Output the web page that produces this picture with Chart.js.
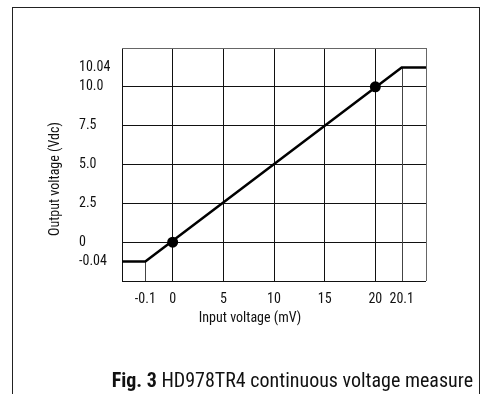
<!DOCTYPE html>
<html>
<head>
<meta charset="utf-8">
<title>HD978TR4 continuous voltage measure</title>
<script src="https://cdn.jsdelivr.net/npm/chart.js@4.4.1/dist/chart.umd.min.js"></script>
<style>
  html, body { margin: 0; padding: 0; background: #fff; }
  #wrap { width: 488px; height: 394px; }
</style>
</head>
<body>
<div id="wrap"><canvas id="chart" width="488" height="394"></canvas></div>
<script>
// transfer curve: input (mV) -> output (Vdc), clamped at both ends
const inputMv = [-0.2, -0.1, 20.1, 20.2];
const outputV = [-0.04, -0.04, 10.04, 10.04];

// the two marked points
const markInputMv = [0, 20];
const markOutputV = [0, 10];

// ticks and labels
const xTickValues = [-0.1, 0, 5, 10, 15, 20, 20.1];
const xTickLabels = ['-0.1', '0', '5', '10', '15', '20', '20.1'];
const yTickValues = [-0.04, 0, 2.5, 5, 7.5, 10, 10.04];
const yTickLabels = ['-0.04', '0', '2.5', '5.0', '7.5', '10.0', '10.04'];

// clamp corners get a drop line to the x axis, not a full grid line
const dropInputMv = [-0.1, 20.1];
const noGridOutputV = [-0.04, 10.04];

const X_MIN = -0.2, X_MAX = 20.2;
const Y_MIN = -0.08, Y_MAX = 10.08;

// the sheet draws the ends of both axes out of scale,
// so each axis maps value -> position piecewise
const BREAKS = {
  x: { value: [X_MIN, -0.1, 0, 20, 20.1, X_MAX], pos: [-5, -2.7, 0, 20, 22.6, 25] },
  y: { value: [Y_MIN, -0.04, 0, 10, 10.04, Y_MAX], pos: [-2.5, -1.25, 0, 10, 11.25, 12.5] },
};

const FONT = 'Roboto, sans-serif';
const STRETCH = 'condensed'; // goes into the canvas font shorthand
const INK = '#111';
const EDGE = '#666';

class BrokenScale extends Chart.LinearScale {
  getPixelForValue(value) {
    const { value: vs, pos: ps } = BREAKS[this.id];
    let i = 1;
    while (i < vs.length - 1 && value > vs[i]) i++;
    const t = (value - vs[i - 1]) / (vs[i] - vs[i - 1]);
    const p = ps[i - 1] + t * (ps[i] - ps[i - 1]);
    return this.getPixelForDecimal((p - ps[0]) / (ps[ps.length - 1] - ps[0]));
  }
}
BrokenScale.id = 'broken';
BrokenScale.defaults = {};
Chart.register(BrokenScale);

Chart.defaults.font.family = FONT;
Chart.defaults.font.size = 14;
Chart.defaults.font.weight = STRETCH;
Chart.defaults.color = INK;

function labelFor(value, values, labels) {
  const i = values.indexOf(value);
  return i < 0 ? '' : labels[i];
}

// white page with the figure frame (open at the bottom)
const framePlugin = {
  id: 'frame',
  beforeDraw(chart) {
    const ctx = chart.ctx;
    ctx.save();
    ctx.fillStyle = '#fff';
    ctx.fillRect(0, 0, chart.width, chart.height);
    ctx.strokeStyle = '#222';
    ctx.lineWidth = 1;
    ctx.strokeRect(12.5, 7.5, 467, chart.height + 10);
    ctx.restore();
  },
};

// thin drop lines from the clamp corners down to the x axis
const dropLinePlugin = {
  id: 'dropLines',
  beforeDatasetsDraw(chart) {
    const { ctx, chartArea, scales } = chart;
    ctx.save();
    ctx.strokeStyle = '#444';
    ctx.lineWidth = 1;
    dropInputMv.forEach(v => {
      const i = inputMv.indexOf(v);
      const px = Math.round(scales.x.getPixelForValue(v)) + 0.5;
      const py = scales.y.getPixelForValue(outputV[i]);
      ctx.beginPath();
      ctx.moveTo(px, py);
      ctx.lineTo(px, chartArea.bottom);
      ctx.stroke();
    });
    ctx.restore();
  },
};

// axis titles and figure caption
const textPlugin = {
  id: 'texts',
  afterDraw(chart) {
    const { ctx, chartArea } = chart;
    ctx.save();
    ctx.fillStyle = INK;
    ctx.textBaseline = 'middle';
    ctx.textAlign = 'center';
    ctx.font = STRETCH + ' 14px ' + FONT;
    ctx.fillText('Input voltage (mV)', 250, chartArea.bottom + 37);

    ctx.save();
    ctx.translate(55, 179);
    ctx.rotate(-Math.PI / 2);
    ctx.fillText('Output voltage (Vdc)', 0, 0);
    ctx.restore();

    const bold = 'Fig. 3';
    const rest = ' HD978TR4 continuous voltage measure';
    const plain = STRETCH + ' 20px ' + FONT;
    const heavy = STRETCH + ' bold 20px ' + FONT;
    ctx.textAlign = 'left';
    ctx.textBaseline = 'alphabetic';
    ctx.font = plain;
    const restW = ctx.measureText(rest).width;
    ctx.font = heavy;
    const boldW = ctx.measureText(bold).width;
    const x0 = 473 - restW - boldW;
    ctx.fillText(bold, x0, 387);
    ctx.font = plain;
    ctx.fillText(rest, x0 + boldW, 387);
    ctx.restore();
  },
};

new Chart(document.getElementById('chart'), {
  type: 'line',
  data: {
    datasets: [
      {
        data: inputMv.map((x, i) => ({ x, y: outputV[i] })),
        borderColor: '#000',
        borderWidth: 2.5,
        pointRadius: 0,
        tension: 0,
      },
      {
        data: markInputMv.map((x, i) => ({ x, y: markOutputV[i] })),
        showLine: false,
        pointRadius: 5.5,
        pointBackgroundColor: '#000',
        pointBorderColor: '#000',
        pointBorderWidth: 0,
      },
    ],
  },
  options: {
    responsive: false,
    animation: false,
    events: [],
    layout: { padding: { left: 79, top: 48, right: 62, bottom: 0 } },
    plugins: {
      legend: { display: false },
      tooltip: { enabled: false },
    },
    scales: {
      x: {
        type: 'broken',
        min: X_MIN,
        max: X_MAX,
        afterBuildTicks: s => { s.ticks = [X_MIN, ...xTickValues, X_MAX].map(v => ({ value: v })); },
        afterFit: s => { s.height = 113; },
        ticks: {
          autoSkip: false,
          maxRotation: 0,
          padding: 10,
          callback: v => labelFor(v, xTickValues, xTickLabels),
        },
        grid: {
          drawTicks: false,
          lineWidth: 1,
          color: c => {
            const v = c.tick.value;
            if (dropInputMv.includes(v)) return 'rgba(0,0,0,0)';
            if (v === X_MAX) return EDGE;
            return INK;
          },
        },
        border: { display: false },
      },
      y: {
        type: 'broken',
        min: Y_MIN,
        max: Y_MAX,
        afterBuildTicks: s => { s.ticks = [Y_MIN, ...yTickValues, Y_MAX].map(v => ({ value: v })); },
        afterFit: s => { s.width = 43; },
        ticks: {
          autoSkip: false,
          crossAlign: 'far',
          padding: 10,
          callback: v => labelFor(v, yTickValues, yTickLabels),
        },
        grid: {
          drawTicks: false,
          lineWidth: 1,
          color: c => {
            const v = c.tick.value;
            if (noGridOutputV.includes(v)) return 'rgba(0,0,0,0)';
            if (v === Y_MAX) return EDGE;
            return INK;
          },
        },
        border: { display: false },
      },
    },
  },
  plugins: [framePlugin, dropLinePlugin, textPlugin],
});
</script>
</body>
</html>
